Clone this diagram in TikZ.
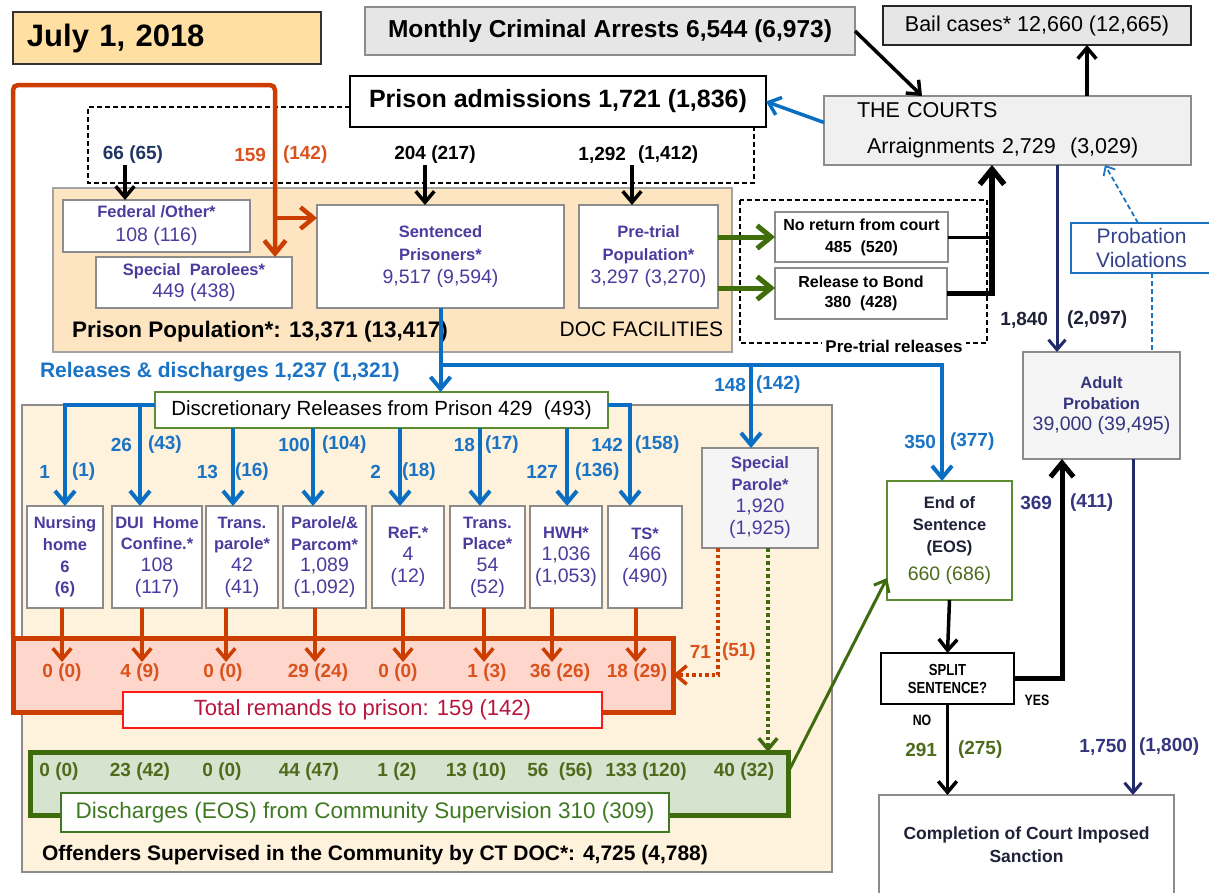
\documentclass[tikz,border=0pt]{standalone}
\usepackage{fontspec}
\setmainfont{Liberation Sans}
\newfontfamily\condf{Liberation Sans}[FakeStretch=0.82]
\usetikzlibrary{arrows.meta}
\newcommand\fsz[2]{\fontsize{#1}{#2}\selectfont}
\newcommand\bnum[1]{{\mdseries\fsz{19.5}{21.7}#1}}
\definecolor{datefill}{HTML}{FFDFA2}
\definecolor{grayfill}{HTML}{E6E6E6}
\definecolor{lgrayfill}{HTML}{F0F0F0}
\definecolor{lgrayfillb}{HTML}{F5F5F5}
\definecolor{gborder}{HTML}{8C8C8C}
\definecolor{popfill}{HTML}{FEE5C1}
\definecolor{commfill}{HTML}{FEF2DD}
\definecolor{purp}{HTML}{4A3C9E}
\definecolor{bluec}{HTML}{1A73C4}
\definecolor{blueline}{HTML}{0A6FC2}
\definecolor{oranl}{HTML}{CC3D00}
\definecolor{orant}{HTML}{D9531E}
\definecolor{remfill}{HTML}{FFD6CC}
\definecolor{crim}{HTML}{B8163E}
\definecolor{redb}{HTML}{FF1A1A}
\definecolor{grnl}{HTML}{3D6B0E}
\definecolor{grnfill}{HTML}{D6E3CF}
\definecolor{grnt}{HTML}{4E6B1C}
\definecolor{grnd}{HTML}{3F7A22}
\definecolor{grnbox}{HTML}{5E8C34}
\definecolor{navy}{HTML}{232A6A}
\definecolor{navyt}{HTML}{35357F}
\definecolor{darkt}{HTML}{1E2138}
\definecolor{darkblue}{HTML}{1F3563}
\definecolor{pvt}{HTML}{33408A}
\definecolor{arrowgreen}{HTML}{3F6E0A}
\begin{document}
\begin{tikzpicture}[x=1pt,y=-1pt,
  every node/.style={inner sep=0pt,outer sep=0pt},
  arr/.style={-{Straight Barb[length=4pt 2,width=8pt 3]}},
  bx/.style={draw=gborder,line width=1.5pt,fill=white,align=center,text=purp},
  sbx/.style={bx,minimum height=102pt,font=\bfseries\fsz{16.5}{21.7}},
  lb/.style={font=\bfseries\fsz{19}{22}},
  bluearr/.style={draw=blueline,line width=4pt,arr},
  orarr/.style={draw=oranl,line width=3.5pt,arr},
  blkarr/.style={draw=black,line width=3.5pt,arr},
  navyarr/.style={draw=navy,line width=3pt,arr},
  grarr/.style={draw=arrowgreen,line width=5pt,arr},
  grline/.style={draw=grnl,line width=3pt,arr},
  ordot/.style={draw=oranl,line width=3.5pt,dash pattern=on 3.5pt off 3pt,arr},
  grdot/.style={draw=grnl,line width=3.5pt,dash pattern=on 3.5pt off 3pt,arr},
  bluedash/.style={draw=bluec,line width=1.8pt,dash pattern=on 5pt off 3pt},
  dashfr/.style={draw=black,line width=1.2pt,dash pattern=on 5pt off 3pt}]
\useasboundingbox (0,0) rectangle (1209,892);
\clip (0,0) rectangle (1209,892);

% ---------- top ----------
\node[draw=black!80,line width=1.5pt,fill=datefill,minimum width=308pt,minimum height=52pt,
  text width=280pt,inner xsep=14pt,align=left,font=\bfseries\fsz{31}{36}] (date) at (167,38) {July 1, 2018};
\node[draw=gborder,line width=1.5pt,fill=grayfill,minimum width=490pt,minimum height=48pt,
  font=\bfseries\fsz{24.5}{28}] (arrests) at (610,31) {Monthly Criminal Arrests 6,544 (6,973)};
\node[draw=black!85,line width=1.5pt,fill=grayfill,minimum width=308pt,minimum height=39pt,
  font=\fsz{21.5}{25}] (bail) at (1037,25.5) {Bail cases* 12,660 (12,665)};
\node[draw=gborder,line width=1.5pt,fill=lgrayfill,minimum width=367pt,minimum height=69pt,
  text width=301pt,inner xsep=33pt,align=left,font=\fsz{21.5}{26}] (courts) at (1007.5,130.5)
  {THE COURTS\\[10pt]\hspace*{10pt}Arraignments 2,729~~(3,029)};
\node[draw=black,line width=1.5pt,fill=white,minimum width=416pt,minimum height=51pt,
  font=\bfseries\fsz{25}{29}] (adm) at (558,101.5) {Prison admissions 1,721 (1,836)};
\draw[dashfr] (350,107) -- (88,107) -- (88,183) -- (754,183) -- (754,127);

% ---------- prison population ----------
\node[draw=gborder!80,line width=1.2pt,fill=popfill,minimum width=679pt,minimum height=164pt] (ppop) at (392.5,270) {};
\node[bx,minimum width=187pt,minimum height=52pt,font=\bfseries\fsz{16.5}{24}] (fed) at (156.5,226)
  {Federal /Other*\\{\mdseries\fsz{19.5}{24}108 (116)}};
\node[bx,minimum width=196pt,minimum height=51pt,font=\bfseries\fsz{16.5}{22}] (spl) at (194,282.5)
  {Special~~Parolees*\\{\mdseries\fsz{19.5}{22}449 (438)}};
\node[bx,minimum width=247pt,minimum height=103pt,font=\bfseries\fsz{16.5}{23}] (sent) at (440.5,256.5)
  {Sentenced\\Prisoners*\\{\mdseries\fsz{19.5}{23}9,517 (9,594)}};
\node[bx,minimum width=139pt,minimum height=103pt,font=\bfseries\fsz{16.5}{23}] (pre) at (648.5,256.5)
  {Pre-trial\\Population*\\{\mdseries\fsz{19.5}{23}3,297 (3,270)}};
\node[anchor=west,font=\bfseries\fsz{22.5}{26}] (ppoptxt) at (72,332) {Prison Population*: 13,371 (13,417)};
\node[anchor=east,font=\fsz{21}{24}] (doctxt) at (723,329) {DOC FACILITIES};

% ---------- pre-trial releases ----------
\draw[dashfr] (740,200) rectangle (987,343);
\node[fill=white,inner xsep=3pt,inner ysep=1pt,font=\bfseries\fsz{17}{20}] (ptrl) at (894,346) {Pre-trial releases};
\node[bx,text=black,minimum width=173pt,minimum height=50pt,font=\bfseries\fsz{16}{22}] (nr) at (861.5,237)
  {No return from court\\485~~(520)};
\node[bx,text=black,minimum width=172pt,minimum height=51pt,font=\bfseries\fsz{16}{20}] (rb) at (861,293.5)
  {Release to Bond\\380~~(428)};

% ---------- probation ----------
\node[draw=bluec,line width=1.2pt,fill=white,minimum width=141pt,minimum height=50pt,align=center,
  font=\fsz{21}{24},text=pvt] (pv) at (1141.5,248) {Probation\\Violations};
\node[bx,fill=lgrayfillb,text=navyt,minimum width=157pt,minimum height=107pt,font=\bfseries\fsz{16.5}{21}] (ap) at (1101.5,405.5)
  {Adult\\Probation\\{\mdseries\fsz{19.5}{21}39,000 (39,495)}};

% ---------- community ----------
\node[draw=gborder,line width=1.5pt,fill=commfill,minimum width=810pt,minimum height=467pt] (comm) at (427,638.5) {};
\node[draw=grnbox,line width=1.5pt,fill=white,minimum width=453pt,minimum height=36pt,font=\fsz{20.5}{24}] (disc) at (381.5,410)
  {Discretionary Releases from Prison 429~~(493)};
\node[sbx,minimum width=76pt] (nurs) at (65,557) {Nursing\\home\\6\\(6)};
\node[sbx,minimum width=90pt] (dui) at (157,557) {DUI~~Home\\Confine.*\\\bnum{108}\\\bnum{(117)}};
\node[sbx,minimum width=72pt] (tp) at (242,557) {Trans.\\parole*\\\bnum{42}\\\bnum{(41)}};
\node[sbx,minimum width=83pt] (par) at (324.5,557) {Parole/\&\\Parcom*\\\bnum{1,089}\\\bnum{(1,092)}};
\node[sbx,minimum width=72pt] (refb) at (408,557) {ReF.*\\\bnum{4}\\\bnum{(12)}};
\node[sbx,minimum width=75pt] (tpl) at (487.5,557) {Trans.\\Place*\\\bnum{54}\\\bnum{(52)}};
\node[sbx,minimum width=72pt] (hwh) at (566,557) {HWH*\\\bnum{1,036}\\\bnum{(1,053)}};
\node[sbx,minimum width=74pt] (ts) at (645,557) {TS*\\\bnum{466}\\\bnum{(490)}};
\node[bx,fill=lgrayfillb,minimum width=116pt,minimum height=100pt,font=\bfseries\fsz{16.5}{22}] (spar) at (760,498)
  {Special\\Parole*\\\bnum{1,920}\\\bnum{(1,925)}};

\node[draw=oranl,line width=5pt,fill=remfill,minimum width=660pt,minimum height=74pt] (rem) at (343,675) {};
\node[draw=redb,line width=2.5pt,fill=white,minimum width=479pt,minimum height=36pt,font=\fsz{22}{26},text=crim] (trem) at (362.5,710)
  {Total remands to prison: 159 (142)};
\node[draw=grnl,line width=5pt,fill=grnfill,minimum width=758pt,minimum height=63pt] (grn) at (409,783.5) {};
\node[draw=grnd,line width=2.5pt,fill=white,minimum width=608pt,minimum height=39pt,font=\fsz{22.5}{26},text=grnd] (dis) at (365,812.5)
  {Discharges (EOS) from Community Supervision 310 (309)};
\node[anchor=west,font=\bfseries\fsz{21}{24}] (off) at (42,855) {Offenders Supervised in the Community by CT DOC*: 4,725 (4,788)};

% ---------- right column ----------
\node[draw=grnbox,line width=1.5pt,fill=white,minimum width=125pt,minimum height=119pt,align=center,
  font=\bfseries\fsz{16.5}{22},text=darkt] (eos) at (949.5,540.5)
  {End of\\Sentence\\(EOS)\\[6pt]{\mdseries\fsz{19.5}{22}\color{grnt}660 (686)}};
\node[draw=black,line width=1.5pt,fill=white,minimum width=133pt,minimum height=51pt,align=center,
  font=\condf\bfseries\fsz{16}{18}] (split) at (947.5,678.5) {SPLIT\\SENTENCE?};
\node[font=\condf\bfseries\fsz{15}{18}] (yes) at (1037,700) {YES};
\node[font=\condf\bfseries\fsz{15}{18}] (no) at (922,720) {NO};
\node[draw=gborder,line width=1.5pt,fill=white,minimum width=295pt,minimum height=100pt,align=center,
  font=\bfseries\fsz{17.5}{23},text=darkt] (comp) at (1026.5,845) {Completion of Court Imposed\\Sanction};

% ---------- admissions arrows ----------
\node[lb,text=darkblue] (l66) at (133,155) {66 (65)};
\node[lb,text=orant,anchor=east] (l159a) at (266,155) {159};
\node[lb,text=orant,anchor=west] (l159b) at (283,155) {(142)};
\node[lb] (l204) at (435,155) {204 (217)};
\node[lb,anchor=east] (l1292a) at (626,155) {1,292};
\node[lb,anchor=west] (l1292b) at (638,155) {(1,412)};
\coordinate (a66) at (125,165);
\coordinate (a204) at (425,165);
\coordinate (a1292) at (632,165);
\draw[blkarr] (a66) -- (a66 |- fed.north);
\draw[blkarr] (a204) -- (a204 |- sent.north);
\draw[blkarr] (a1292) -- (a1292 |- pre.north);

% orange remand path
\coordinate (oc) at (275,85);
\coordinate (ob) at (275,218);
\draw[orarr,line width=4.5pt,rounded corners=5pt] (rem.north west) |- (oc) -- (oc |- spl.north);
\draw[orarr,line width=4.5pt] (ob) -- (ob -| sent.west);

% courts connectors
\coordinate (ca) at (922,96);
\coordinate (cb) at (1087,0);
\coordinate (cn) at (1057,0);
\coordinate (cv) at (992,0);
\draw[bluearr,line width=3.5pt] ([yshift=8pt]courts.west) -- (adm.east);
\draw[blkarr] (arrests.east) -- (ca);
\draw[blkarr] (courts.north -| cb) -- (bail.south -| cb);
\draw[navyarr] (courts.south -| cn) -- (ap.north -| cn);
\node[lb,text=darkt,anchor=east] (l1840a) at (1048,320) {1,840};
\node[lb,text=darkt,anchor=west] (l1840b) at (1067,320) {(2,097)};
\draw[draw=black,line width=3pt] (nr.east) -- (nr.east -| cv);
\draw[blkarr,line width=5.5pt] (rb.east) -- (rb.east -| cv) -- (cv |- courts.south);

% pretrial green arrows
\coordinate (g2) at (718,288);
\draw[grarr] (pre.east |- nr.west) -- (nr.west);
\draw[grarr] (g2) -- (g2 -| rb.west);

% probation violations
\coordinate (pvd) at (1152,0);
\coordinate (pvu) at (1138,0);
\coordinate (ctp) at (1105,0);
\draw[bluedash] (pv.south -| pvd) -- (ap.north -| pvd);
\draw[bluedash,arr] (pv.north -| pvu) -- (courts.south -| ctp);

% releases
\node[anchor=west,font=\bfseries\fsz{21}{24},text=bluec] (rel) at (40,372) {Releases \& discharges 1,237 (1,321)};
\coordinate (bj) at (440.5,365);
\coordinate (bS) at (751,365);
\coordinate (bE) at (942,365);
\draw[bluearr] (sent.south) -- (sent.south |- disc.north);
\draw[bluearr] (bj) -- (bE) -- (bE |- eos.north);
\draw[bluearr] (bS) -- (bS |- spar.north);
\node[lb,text=bluec,anchor=east] (l148a) at (746,385) {148};
\node[lb,text=bluec,anchor=west] (l148b) at (756,385) {(142)};
\node[lb,text=bluec,anchor=east] (l350a) at (936,442) {350};
\node[lb,text=bluec,anchor=west] (l350b) at (950,442) {(377)};

% discretionary drops
\coordinate (dL) at (155,405);
\coordinate (dD) at (140,405);
\coordinate (dR) at (608,405);
\coordinate (dT) at (630,405);
\draw[bluearr] (dL) -| (nurs.north);
\draw[bluearr] (dD) -- (dD |- dui.north);
\foreach \x/\b in {233/tp,313/par,400/refb,480/tpl,567/hwh} {
  \coordinate (dc\b) at (\x,0);
  \draw[bluearr] (disc.south -| dc\b) -- (dc\b |- \b.north);
}
\draw[bluearr] (dR) -- (dT) -- (dT |- ts.north);
\foreach \ex/\sx/\y/\a/\b [count=\i] in {50/72/472/1/(1),132/148/445/26/(43),218/235/472/13/(16),310/322/445/100/(104),381/402/472/2/(18),475/485/445/18/(17),558/575/472/127/(136),623/635/445/142/(158)} {
  \node[lb,text=bluec,anchor=east] (bla\i) at (\ex,\y) {\a};
  \node[lb,text=bluec,anchor=west] (blb\i) at (\sx,\y) {\b};
}

% remands
\foreach \x/\b [count=\i] in {62/nurs,142/dui,226/tp,315/par,403/refb,484/tpl,552/hwh,636/ts} {
  \coordinate (ox\i) at (\x,662);
  \draw[orarr] (\b.south -| ox\i) -- (ox\i);
}
\foreach \x/\t [count=\i] in {62/0 (0),140/4 (9),223/0 (0),318/29 (24),398/0 (0),487/1 (3),560/36 (26),637/18 (29)}
  \node[lb,text=orant] (rl\i) at (\x,673) {\t};
\foreach \x/\t [count=\i] in {59/0 (0),140/23 (42),222/0 (0),309/44 (47),397/1 (2),476/13 (10),560/56~~(56),646/133 (120),744/40 (32)}
  \node[lb,text=grnt] (gl\i) at (\x,772) {\t};

% special parole dotted
\coordinate (sx1) at (718,0);
\coordinate (sx2) at (768,0);
\draw[ordot] (spar.south -| sx1) |- (rem.east);
\draw[grdot] (spar.south -| sx2) -- (sx2 |- grn.north);
\node[lb,text=orant,anchor=east] (l71a) at (711,652) {71};
\node[lb,text=orant,anchor=west] (l71b) at (722,652) {(51)};

% right column connectors
\coordinate (etp) at (0,578);
\draw[grline] ([yshift=11pt]grn.east) -- (eos.west |- etp);
\draw[blkarr] (eos.south) -- (split.north);
\draw[blkarr] (split.south) -- (split.south |- comp.north);
\node[lb,text=grnt,anchor=east] (l291a) at (937,750) {291};
\node[lb,text=grnt,anchor=west] (l291b) at (958,750) {(275)};
\coordinate (c369) at (1062,0);
\draw[blkarr,line width=5pt] (split.east) -| (c369 |- ap.south);
\node[lb,text=navyt,anchor=east] (l369a) at (1052,503) {369};
\node[lb,text=navyt,anchor=west] (l369b) at (1070,503) {(411)};
\coordinate (c175) at (1133,0);
\draw[navyarr] (ap.south -| c175) -- (comp.north -| c175);
\node[lb,text=navyt,anchor=east] (l1750a) at (1127,747) {1,750};
\node[lb,text=navyt,anchor=west] (l1750b) at (1139,747) {(1,800)};
\end{tikzpicture}
\end{document}
